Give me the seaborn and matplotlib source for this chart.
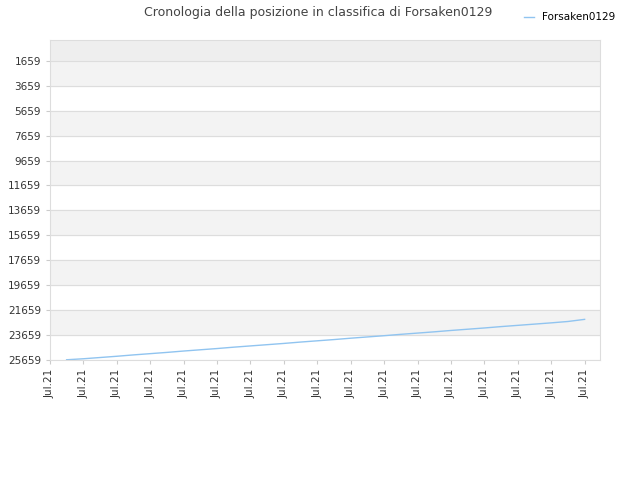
import matplotlib
matplotlib.use("Agg")
import matplotlib.pyplot as plt
import seaborn as sns

# positions along the x axis (tick units) and ranks
day_pos = [0.5, 1.0, 1.5, 2.0, 2.5, 3.0, 3.5, 4.0, 4.5, 5.0, 5.5, 6.0, 6.5, 7.0, 7.5, 8.0,
           8.5, 9.0, 9.5, 10.0, 10.5, 11.0, 11.5, 12.0, 12.5, 13.0, 13.5, 14.0, 14.5, 15.0, 15.5, 16.0]
rank = [25640, 25560, 25460, 25360, 25250, 25150, 25050, 24940, 24840, 24740, 24630, 24530,
        24430, 24330, 24220, 24120, 24020, 23910, 23810, 23710, 23600, 23500, 23400, 23290,
        23190, 23090, 22980, 22880, 22780, 22680, 22570, 22400]
x_ticks = list(range(17))
x_labels = ["Jul.21"] * 17
y_ticks = list(range(1659, 25660, 2000))

fig = plt.figure(figsize=(6.4, 4.8), dpi=100)
ax = fig.add_axes([0.078, 0.25, 0.86, 0.667])

ax.axhspan(-21, 1659, color="#eeeeee", zorder=0)
for i, t in enumerate(y_ticks[:-1]):
    if i % 2 == 0:
        ax.axhspan(t, t + 2000, color="#f3f3f3", zorder=0)

sns.lineplot(x=day_pos, y=rank, ax=ax, color="#90c4f0", linewidth=1,
             label="Forsaken0129")

ax.set_xlim(0, 16.47)
ax.set_ylim(25659, -21)
ax.set_yticks(y_ticks)
ax.set_yticklabels([str(t) for t in y_ticks], fontsize=7.5, color="#333333")
ax.set_xticks(x_ticks)
ax.set_xticklabels(x_labels, rotation=90, fontsize=7.5, color="#333333")
ax.grid(axis="y", color="#dddddd", linewidth=0.8)
ax.set_axisbelow(True)
for s in ax.spines.values():
    s.set_color("#dddddd")
ax.tick_params(length=3, color="#cccccc")

fig.text(0.497, 0.988, "Cronologia della posizione in classifica di Forsaken0129",
         ha="center", va="top", fontsize=9, color="#444444")
ax.legend(loc="upper right", bbox_to_anchor=(1.045, 1.115), frameon=False,
          fontsize=7.5, handlelength=1.0)

fig.savefig("out.png", dpi=100)
